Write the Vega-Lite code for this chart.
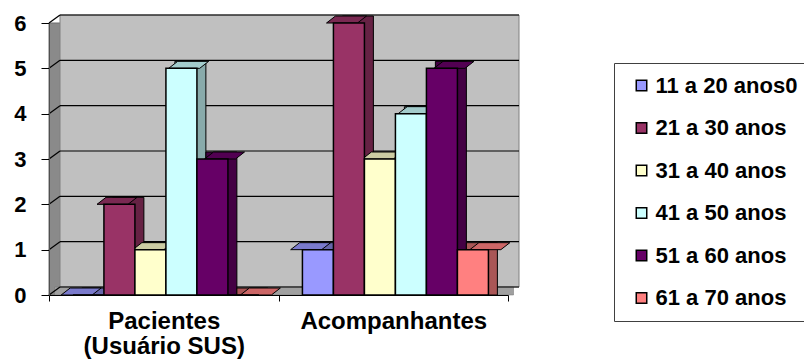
{
  "$schema": "https://vega.github.io/schema/vega-lite/v6.json",
  "width": 459,
  "height": 272,
  "autosize": {"type": "none"},
  "padding": {"left": 49, "top": 23, "right": 296, "bottom": 65},
  "background": "white",
  "config": {"view": {"stroke": null}, "font": "Liberation Sans"},
  "datasets": {
    "idades": [
      {"grupo": "Pacientes (Usuário SUS)", "faixa": "11 a 20 anos0", "n": 0},
      {"grupo": "Pacientes (Usuário SUS)", "faixa": "21 a 30 anos", "n": 2},
      {"grupo": "Pacientes (Usuário SUS)", "faixa": "31 a 40 anos", "n": 1},
      {"grupo": "Pacientes (Usuário SUS)", "faixa": "41 a 50 anos", "n": 5},
      {"grupo": "Pacientes (Usuário SUS)", "faixa": "51 a 60 anos", "n": 3},
      {"grupo": "Pacientes (Usuário SUS)", "faixa": "61 a 70 anos", "n": 0},
      {"grupo": "Acompanhantes", "faixa": "11 a 20 anos0", "n": 1},
      {"grupo": "Acompanhantes", "faixa": "21 a 30 anos", "n": 6},
      {"grupo": "Acompanhantes", "faixa": "31 a 40 anos", "n": 3},
      {"grupo": "Acompanhantes", "faixa": "41 a 50 anos", "n": 4},
      {"grupo": "Acompanhantes", "faixa": "51 a 60 anos", "n": 5},
      {"grupo": "Acompanhantes", "faixa": "61 a 70 anos", "n": 1}
    ],
    "grade": [{"v": 0}, {"v": 1}, {"v": 2}, {"v": 3}, {"v": 4}, {"v": 5}, {"v": 6}],
    "parede": [{"base": 0, "topo": 6}]
  },
  "layer": [
    {
      "data": {"name": "parede"},
      "mark": {"type": "rect", "fill": "#8a8a8a", "stroke": "#6e6e6e", "strokeWidth": 1},
      "encoding": {
        "x": {"value": 0},
        "x2": {"value": "width"},
        "y": {"field": "topo", "type": "quantitative", "scale": {"domain": [0, 6], "nice": false},
              "axis": {"title": null, "values": [0, 1, 2, 3, 4, 5, 6], "zindex": 1, "grid": false,
                       "domainColor": "#505050", "domainWidth": 1, "tickColor": "black", "tickSize": 8, "tickWidth": 1,
                       "labelFont": "Liberation Sans", "labelFontSize": 22, "labelFontWeight": "bold", "labelColor": "black",
                       "labelPadding": 15}},
        "y2": {"field": "base"}
      }
    },
    {
      "data": {"name": "parede"},
      "mark": {"type": "rect", "fill": "#c0c0c0", "stroke": "#808080", "strokeWidth": 1, "xOffset": 11, "x2Offset": 11, "yOffset": -8, "y2Offset": -8},
      "encoding": {
        "x": {"value": 0},
        "x2": {"value": "width"},
        "y": {"field": "topo", "type": "quantitative"},
        "y2": {"field": "base"}
      }
    },
    {
      "data": {"name": "parede"},
      "mark": {"type": "rect", "fill": "#a0a0a0", "stroke": "#707070", "strokeWidth": 0.5, "xOffset": 5.5, "x2Offset": 5.5, "y2Offset": -8},
      "encoding": {
        "x": {"value": 0},
        "x2": {"value": "width"},
        "y": {"field": "base", "type": "quantitative"},
        "y2": {"field": "base"}
      }
    },
    {
      "data": {"name": "grade"},
      "mark": {"type": "rule", "color": "black", "strokeWidth": 1.2, "xOffset": 11, "x2Offset": 11, "yOffset": -8},
      "encoding": {
        "x": {"value": 0},
        "x2": {"value": "width"},
        "y": {"field": "v", "type": "quantitative"}
      }
    },
    {
      "data": {"name": "grade"},
      "mark": {"type": "rule", "color": "black", "strokeWidth": 1.2, "x2Offset": 11, "y2Offset": -8},
      "encoding": {
        "x": {"value": 0},
        "x2": {"value": 0},
        "y": {"field": "v", "type": "quantitative"},
        "y2": {"field": "v"}
      }
    },
    {
      "data": {"name": "idades"},
      "mark": {"type": "bar", "stroke": "black", "strokeWidth": 1, "yOffset": -7, "y2Offset": -7},
      "encoding": {
        "x": {"field": "grupo", "type": "nominal", "sort": ["Pacientes (Usuário SUS)", "Acompanhantes"], "scale": {"paddingInner": 0, "paddingOuter": 0}},
        "xOffset": {"field": "faixa", "type": "nominal", "scale": {"paddingInner": 0, "paddingOuter": 0.7016, "align": 0.756}},
        "y": {"field": "n", "type": "quantitative", "stack": null},
        "color": {"field": "faixa", "type": "nominal", "legend": null,
                  "scale": {"domain": ["11 a 20 anos0", "21 a 30 anos", "31 a 40 anos", "41 a 50 anos", "51 a 60 anos", "61 a 70 anos"],
                            "range": ["#6666aa", "#662244", "#aaaa88", "#88aaaa", "#440044", "#aa5656"]}}
      }
    },
    {
      "data": {"name": "idades"},
      "mark": {"type": "point", "filled": true, "opacity": 1, "size": 4, "stroke": "black", "strokeWidth": 1,
               "shape": "M-15.5,0L15.5,0L24.5,-7L-6.5,-7Z"},
      "encoding": {
        "x": {"field": "grupo", "type": "nominal", "sort": ["Pacientes (Usuário SUS)", "Acompanhantes"]},
        "xOffset": {"field": "faixa", "type": "nominal", "scale": {"paddingInner": 0, "paddingOuter": 0.7016, "align": 0.55}},
        "y": {"field": "n", "type": "quantitative"},
        "color": {"field": "faixa", "type": "nominal", "legend": null,
                  "scale": {"domain": ["11 a 20 anos0", "21 a 30 anos", "31 a 40 anos", "41 a 50 anos", "51 a 60 anos", "61 a 70 anos"],
                            "range": ["#7a7acc", "#7a2952", "#cccca3", "#a3cccc", "#520052", "#cc6666"]}}
      }
    },
    {
      "data": {"name": "idades"},
      "mark": {"type": "bar", "stroke": "black", "strokeWidth": 1.5},
      "encoding": {
        "x": {"field": "grupo", "type": "nominal", "sort": ["Pacientes (Usuário SUS)", "Acompanhantes"],
              "axis": {"title": null, "zindex": 1, "labelAngle": 0, "labelAlign": "center", "domainColor": "black", "domainWidth": 1.2,
                       "tickColor": "black", "tickSize": 6, "tickBand": "extent",
                       "labelFont": "Liberation Sans", "labelFontSize": 24, "labelFontWeight": "bold", "labelColor": "black",
                       "labelPadding": 20, "labelLineHeight": 25, "labelLimit": 400,
                       "labelExpr": "datum.label == 'Pacientes (Usuário SUS)' ? ['Pacientes', '(Usuário SUS)'] : datum.label"}},
        "xOffset": {"field": "faixa", "type": "nominal", "scale": {"paddingInner": 0, "paddingOuter": 0.7016, "align": 0.55}},
        "y": {"field": "n", "type": "quantitative", "stack": null},
        "color": {"field": "faixa", "type": "nominal",
                  "scale": {"domain": ["11 a 20 anos0", "21 a 30 anos", "31 a 40 anos", "41 a 50 anos", "51 a 60 anos", "61 a 70 anos"],
                            "range": ["#9999ff", "#993366", "#ffffcc", "#ccffff", "#660066", "#ff8080"]},
                  "legend": {"orient": "none", "legendX": 565, "legendY": 40, "title": null,
                             "symbolType": "square", "symbolSize": 110, "symbolStrokeColor": "black", "symbolStrokeWidth": 1.5,
                             "labelFont": "Liberation Sans", "labelFontSize": 22, "labelFontWeight": "bold", "labelColor": "black",
                             "rowPadding": 20.5, "padding": 11.5, "strokeColor": "#404040", "fillColor": "white",
                             "symbolOffset": 5, "labelOffset": 3, "labelLimit": 300}}
      }
    }
  ],
  "resolve": {"scale": {"color": "independent", "xOffset": "independent"}}
}
